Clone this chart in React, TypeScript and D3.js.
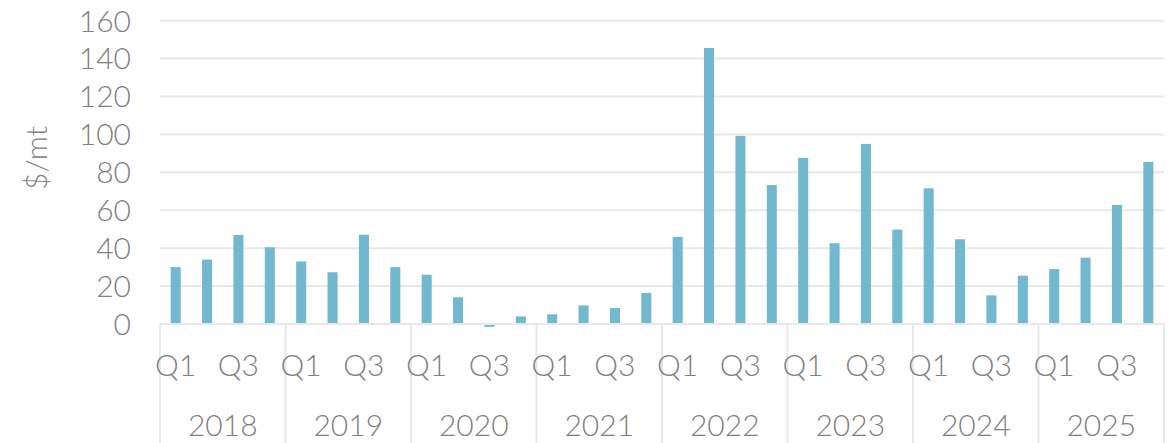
import React from "react";
import * as d3 from "d3";

const years = ["2018", "2019", "2020", "2021", "2022", "2023", "2024", "2025"];
const quarters = ["Q1", "Q2", "Q3", "Q4"];
const quarterLabels = ["Q1", "", "Q3", ""];
const values = [
  30, 34, 47, 40.5,
  33, 27.3, 47.1, 30,
  26, 14.1, -1.5, 4,
  5.1, 9.8, 8.4, 16.4,
  46, 145.6, 99.2, 73.3,
  87.6, 42.6, 95, 49.8,
  71.6, 44.7, 15.1, 25.5,
  29, 35, 62.8, 85.5,
];
const yTicks = [0, 20, 40, 60, 80, 100, 120, 140, 160];
const yLabel = "$/mt";

const W = 1173;
const H = 443;
const left = 160;
const right = 1164;
const top = 20.7;
const base = 324;

export default function App() {
  const keys = years.flatMap((y) => quarters.map((q) => `${y}-${q}`));
  const x = d3.scaleBand<string>().domain(keys).range([left, right]).paddingInner(0.68).paddingOuter(0.34);
  const y = d3.scaleLinear().domain([0, 160]).range([base, top]);
  const yearX = d3.scaleBand<string>().domain(years).range([left, right]);
  const font = "Lato, 'DejaVu Sans', sans-serif";
  const color = "#808080";
  const grid = "#e8e8e8";
  const fs = 30;
  const fw = 300;

  return (
    <svg width={W} height={H} style={{ position: "absolute", left: 0, top: 0, background: "#fff" }}>
      {yTicks.map((t) => (
        <g key={t}>
          {t !== 0 && (
            <line x1={left} x2={right} y1={y(t)} y2={y(t)} stroke={grid} strokeWidth={2} />
          )}
          <text x={131} y={y(t)} dy="0.36em" textAnchor="end" fontFamily={font} fontSize={fs} fontWeight={fw} fill={color}>
            {t}
          </text>
        </g>
      ))}
      <text
        transform={`translate(36,158) rotate(-90)`}
        textAnchor="middle"
        dy="0.36em"
        fontFamily={font}
        fontSize={fs}
        fontWeight={fw}
        fill={color}
      >
        {yLabel}
      </text>
      {values.map((v, i) => {
        const k = keys[i];
        const y0 = y(Math.max(0, v));
        const y1 = y(Math.min(0, v));
        return <rect key={k} x={x(k)} y={y0} width={x.bandwidth()} height={y1 - y0} fill="#72b8cf" />;
      })}
      <line x1={left} x2={right} y1={base} y2={base} stroke={grid} strokeWidth={2} />
      {years.map((yr) => (
        <line key={yr} x1={yearX(yr)} x2={yearX(yr)} y1={base} y2={H} stroke={grid} strokeWidth={2} />
      ))}
      <line x1={right} x2={right} y1={base} y2={H} stroke={grid} strokeWidth={2} />
      {keys.map((k, i) => {
        const lbl = quarterLabels[i % 4];
        if (!lbl) return null;
        return (
          <text key={k} x={x(k)! + x.bandwidth() / 2} y={365} dy="0.36em" textAnchor="middle" fontFamily={font} fontSize={fs} fontWeight={fw} fill={color}>
            {lbl}
          </text>
        );
      })}
      {years.map((yr) => (
        <text key={yr} x={yearX(yr)! + yearX.bandwidth() / 2} y={425} dy="0.36em" textAnchor="middle" fontFamily={font} fontSize={fs} fontWeight={fw} fill={color}>
          {yr}
        </text>
      ))}
    </svg>
  );
}
